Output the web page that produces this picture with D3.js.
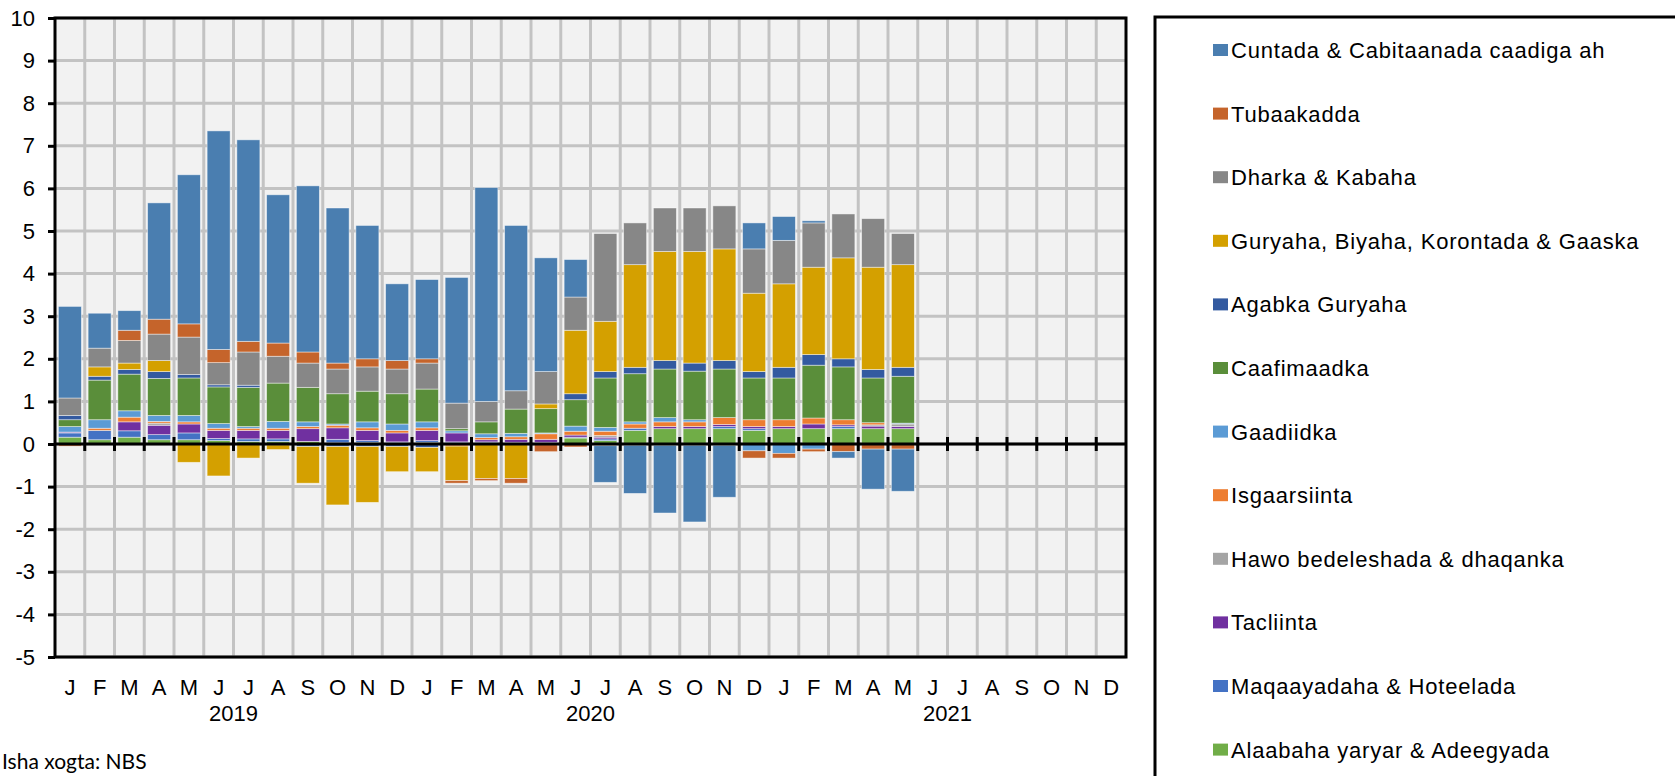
<!DOCTYPE html>
<html>
<head>
<meta charset="utf-8">
<script src="https://cdn.jsdelivr.net/npm/d3@7"></script>
<style>
  body { margin: 0; background: #fff; }
  text { font-family: "Liberation Sans", Arial, sans-serif; }
</style>
</head>
<body>
<div id="chart"></div>
<script>
// month letters and year labels for the x axis
const monthLetters = ["J","F","M","A","M","J","J","A","S","O","N","D"];
const years = ["2019", "2020", "2021"];
const yTicks = [-5,-4,-3,-2,-1,0,1,2,3,4,5,6,7,8,9,10];

// contribution per group, Jan 2019 .. May 2021 (stack order, bottom first)
const alaabaha     = [0.16,0.10,0.16,0.10,0.10,0.08,0.06,0.06,0.06,0.03,0.04,0.03, 0.04,0.03,0.03,0.03,0.03,0.14,0.08,0.32,0.36,0.36,0.36,0.32, 0.36,0.36,0.36,0.36,0.36];
const maqaayadaha  = [0.10,0.22,0.15,0.12,0.16,0.05,0.06,0.06,0.00,0.08,0.04,0.02, 0.04,0.02,0.02,0.01,0.01,0.02,0.04,0.05,0.00,0.00,0.05,0.04, 0.00,0.00,0.05,0.00,0.00];
const tacliinta    = [0.02,0.00,0.21,0.22,0.21,0.19,0.20,0.20,0.30,0.27,0.24,0.21, 0.24,0.21,0.05,0.07,0.07,0.05,0.04,0.00,0.05,0.05,0.05,0.05, 0.05,0.11,0.04,0.06,0.05];
const hawo         = [0.00,0.00,0.00,0.05,0.00,0.00,0.00,0.00,0.00,0.00,0.00,0.00, 0.00,0.00,0.00,0.00,0.00,0.00,0.04,0.00,0.00,0.00,0.00,0.00, 0.00,0.00,0.00,0.03,0.06];
const isgaarsiinta = [0.00,0.05,0.11,0.04,0.05,0.05,0.05,0.05,0.05,0.06,0.06,0.06, 0.06,-0.05,0.05,0.06,0.13,0.09,0.10,0.10,0.11,0.11,0.16,0.16, 0.16,0.14,0.12,0.05,0.00];
const gaadiidka    = [0.13,0.20,0.15,0.14,0.15,0.11,0.04,0.16,0.11,0.03,0.14,0.15, 0.14,0.05,0.09,0.08,0.02,0.12,0.09,0.05,0.10,0.05,0.00,-0.16, -0.22,-0.12,0.00,0.00,0.02];
const caafimaadka  = [0.16,0.93,0.86,0.87,0.88,0.86,0.92,0.90,0.81,0.71,0.72,0.71, 0.77,0.05,0.28,0.57,0.57,0.62,1.16,1.13,1.14,1.14,1.14,0.98, 0.98,1.24,1.24,1.05,1.10];
const agabka       = [0.10,0.09,0.11,0.16,0.08,0.05,0.05,-0.02,-0.06,-0.06,-0.06,-0.06, -0.08,0.00,0.00,0.00,0.00,0.14,0.15,0.15,0.20,0.19,0.20,0.15, 0.25,0.25,0.19,0.20,0.21];
const guryaha      = [0.00,0.22,0.15,0.26,-0.43,-0.75,-0.33,-0.11,-0.86,-1.37,-1.31,-0.59, -0.57,-0.81,-0.81,-0.81,0.11,1.49,1.18,2.41,2.56,2.62,2.62,1.84, 1.96,2.05,2.37,2.40,2.41];
const dharka       = [0.41,0.44,0.53,0.62,0.88,0.52,0.78,0.63,0.57,0.58,0.57,0.58, 0.61,0.60,0.48,0.43,0.76,0.78,2.06,0.98,1.02,1.02,1.01,1.04, 1.02,1.04,1.03,1.14,0.73];
const tubaakadda   = [-0.05,0.00,0.24,0.35,0.31,0.31,0.25,0.31,0.26,0.14,0.19,0.20, 0.10,-0.06,-0.05,-0.11,-0.18,-0.07,-0.04,-0.03,-0.03,-0.03,-0.03,-0.17, -0.11,-0.06,-0.18,-0.12,-0.12];
const cuntada      = [2.15,0.82,0.46,2.73,3.50,5.13,4.73,3.48,3.90,3.64,3.13,1.80, 1.86,2.95,5.02,3.88,2.67,0.88,-0.86,-1.13,-1.59,-1.80,-1.22,0.61, 0.56,0.05,-0.15,-0.94,-0.99];

const series = [
  { name: "Alaabaha yaryar & Adeegyada", color: "#70ad47", values: alaabaha },
  { name: "Maqaayadaha & Hoteelada", color: "#4472c4", values: maqaayadaha },
  { name: "Tacliinta", color: "#7030a0", values: tacliinta },
  { name: "Hawo bedeleshada & dhaqanka", color: "#a5a5a5", values: hawo },
  { name: "Isgaarsiinta", color: "#ed7d31", values: isgaarsiinta },
  { name: "Gaadiidka", color: "#5b9bd5", values: gaadiidka },
  { name: "Caafimaadka", color: "#5a8e3a", values: caafimaadka },
  { name: "Agabka Guryaha", color: "#335aa0", values: agabka },
  { name: "Guryaha, Biyaha, Korontada & Gaaska", color: "#d4a000", values: guryaha },
  { name: "Dharka & Kabaha", color: "#878787", values: dharka },
  { name: "Tubaakadda", color: "#c5642b", values: tubaakadda },
  { name: "Cuntada & Cabitaanada caadiga ah", color: "#4a7eb0", values: cuntada }
];

const W = 1675, H = 776;
const plot = { left: 55, right: 1126, top: 18, bottom: 657 };

const monthKeys = [];
years.forEach(yr => monthLetters.forEach((m, i) => monthKeys.push(yr + "-" + i)));

const svg = d3.select("#chart").append("svg")
  .attr("width", W).attr("height", H);

const x = d3.scaleBand()
  .domain(monthKeys)
  .range([plot.left, plot.right])
  .paddingInner(0.227)
  .paddingOuter(0.1135);
const step = x.step();

const y = d3.scaleLinear().domain([-5, 10]).range([plot.bottom, plot.top]);

// plot background
svg.append("rect")
  .attr("x", plot.left).attr("y", plot.top)
  .attr("width", plot.right - plot.left).attr("height", plot.bottom - plot.top)
  .attr("fill", "#f2f2f2");

// gridlines
const grid = svg.append("g").attr("stroke", "#c3c3c3").attr("stroke-width", 3);
grid.selectAll("line.h").data(yTicks).join("line")
  .attr("x1", plot.left).attr("x2", plot.right)
  .attr("y1", d => y(d)).attr("y2", d => y(d));
grid.selectAll("line.v").data(d3.range(1, monthKeys.length)).join("line")
  .attr("x1", i => plot.left + i * step).attr("x2", i => plot.left + i * step)
  .attr("y1", plot.top).attr("y2", plot.bottom);

// stacked bars
const rows = alaabaha.map((_, i) => {
  const r = { key: monthKeys[i] };
  series.forEach(s => r[s.name] = s.values[i]);
  return r;
});
const stacked = d3.stack()
  .keys(series.map(s => s.name))
  .offset(d3.stackOffsetDiverging)(rows);

svg.append("g").selectAll("g").data(stacked).join("g")
  .attr("fill", (d, i) => series[i].color)
  .selectAll("rect")
  .data(d => d.filter(p => p[1] !== p[0]))
  .join("rect")
  .attr("x", d => x(d.data.key))
  .attr("width", x.bandwidth())
  .attr("y", d => y(Math.max(d[0], d[1])))
  .attr("height", d => Math.abs(y(d[0]) - y(d[1])))
  .attr("stroke", "rgba(255,255,255,0.55)")
  .attr("stroke-width", 0.8);

// zero line with month ticks
const y0 = y(0);
svg.append("line")
  .attr("x1", plot.left).attr("x2", plot.right)
  .attr("y1", y0).attr("y2", y0)
  .attr("stroke", "#000").attr("stroke-width", 3);
svg.append("g").selectAll("line").data(d3.range(1, monthKeys.length)).join("line")
  .attr("x1", i => plot.left + i * step).attr("x2", i => plot.left + i * step)
  .attr("y1", y0 - 7).attr("y2", y0 + 7)
  .attr("stroke", "#000").attr("stroke-width", 3);

// plot border
svg.append("rect")
  .attr("x", plot.left).attr("y", plot.top)
  .attr("width", plot.right - plot.left).attr("height", plot.bottom - plot.top)
  .attr("fill", "none").attr("stroke", "#000").attr("stroke-width", 3);

// y axis
const yAxis = svg.append("g")
  .attr("transform", `translate(${plot.left},0)`)
  .call(d3.axisLeft(y).tickValues(yTicks).tickSize(7).tickPadding(13)
    .tickFormat(d => String(d)));
yAxis.select(".domain").remove();
yAxis.selectAll(".tick line").attr("stroke", "#000").attr("stroke-width", 3);
yAxis.selectAll(".tick text")
  .attr("font-size", 22).attr("fill", "#000")
  .style("font-family", '"Liberation Sans", Arial, sans-serif');

// month labels
svg.append("g").selectAll("text").data(monthKeys).join("text")
  .attr("x", d => x(d) + x.bandwidth() / 2)
  .attr("y", 695)
  .attr("text-anchor", "middle")
  .attr("font-size", 22)
  .text(d => monthLetters[+d.split("-")[1]]);

// year labels
svg.append("g").selectAll("text").data(years).join("text")
  .attr("x", (d, i) => plot.left + (i * 12 + 6) * step)
  .attr("y", 721)
  .attr("text-anchor", "middle")
  .attr("font-size", 22)
  .text(d => d);

// source note
svg.append("text")
  .attr("x", 2).attr("y", 769)
  .attr("font-size", 21)
  .style("font-family", "Lato, 'Open Sans', sans-serif")
  .text("Isha xogta: NBS");

// legend
const legend = svg.append("g");
legend.append("rect")
  .attr("x", 1155).attr("y", 17)
  .attr("width", 600).attr("height", 800)
  .attr("fill", "#fff").attr("stroke", "#000").attr("stroke-width", 3);
const legendItems = series.slice().reverse();
const item = legend.selectAll("g.item").data(legendItems).join("g")
  .attr("transform", (d, i) => `translate(1213,${50 + i * 63.6})`);
item.append("rect")
  .attr("x", 0).attr("y", -6)
  .attr("width", 15).attr("height", 12)
  .attr("fill", d => d.color);
item.append("text")
  .attr("x", 18).attr("y", 8)
  .attr("font-size", 22)
  .attr("letter-spacing", 0.8)
  .text(d => d.name);
</script>
</body>
</html>
